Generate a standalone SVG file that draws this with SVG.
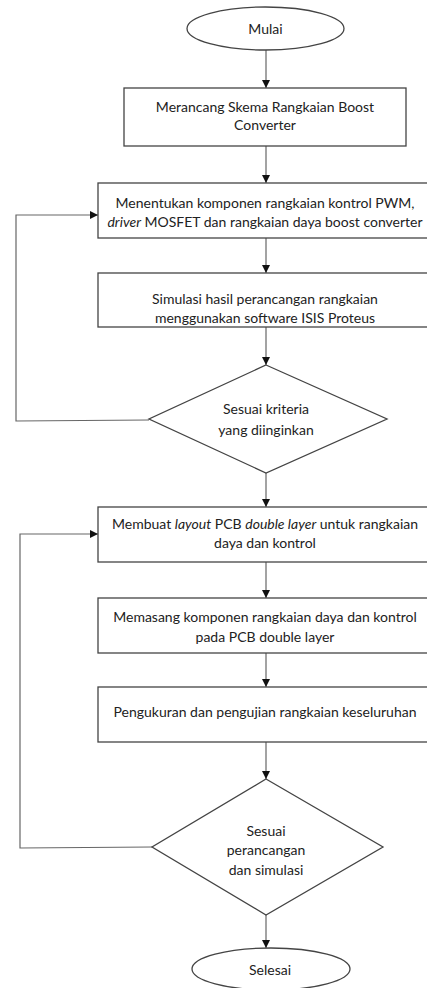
<svg xmlns="http://www.w3.org/2000/svg" width="427" height="988" viewBox="0 0 427 988">
<defs>
<marker id="ah" viewBox="0 0 10 10" refX="10" refY="5" markerWidth="8" markerHeight="8" markerUnits="userSpaceOnUse" orient="auto">
<path d="M0,0 L10,5 L0,10 z" fill="#111"/>
</marker>
<style>
.n{fill:#fff;stroke:#444;stroke-width:1.3}
.c{fill:none;stroke:#666;stroke-width:1.2}
text{font-family:Lato,"Liberation Sans",Arial,sans-serif;font-size:14px;fill:#222;text-anchor:middle;dominant-baseline:central}
.i{font-style:italic}
</style>
</defs>
<rect width="427" height="988" fill="#fff"/>
<g id="connectors">
<line class="c" x1="266" y1="50" x2="266" y2="88" marker-end="url(#ah)"/>
<line class="c" x1="266" y1="146" x2="266" y2="183" marker-end="url(#ah)"/>
<line class="c" x1="266" y1="238" x2="266" y2="273" marker-end="url(#ah)"/>
<line class="c" x1="266" y1="327" x2="266" y2="365" marker-end="url(#ah)"/>
<polyline class="c" points="149,420 16,421 16,215 98,215" marker-end="url(#ah)"/>
<line class="c" x1="266" y1="473" x2="266" y2="507" marker-end="url(#ah)"/>
<line class="c" x1="266" y1="562" x2="266" y2="598" marker-end="url(#ah)"/>
<line class="c" x1="266" y1="653" x2="266" y2="687" marker-end="url(#ah)"/>
<line class="c" x1="266" y1="742" x2="266" y2="779" marker-end="url(#ah)"/>
<polyline class="c" points="152,847 20,848 20,534 98,534" marker-end="url(#ah)"/>
<line class="c" x1="266" y1="915" x2="266" y2="948" marker-end="url(#ah)"/>
</g>
<g id="start">
<ellipse class="n" cx="265.5" cy="28.5" rx="78.5" ry="21.5"/>
<text x="265.5" y="28.5">Mulai</text>
</g>
<g id="step1">
<rect class="n" x="124" y="88" width="282" height="58"/>
<text x="265" y="106">Merancang Skema Rangkaian Boost</text>
<text x="265" y="124">Converter</text>
</g>
<g id="step2">
<rect class="n" x="98" y="183" width="340" height="55"/>
<text x="265" y="202">Menentukan komponen rangkaian kontrol PWM,</text>
<text x="265" y="221"><tspan class="i">driver</tspan> MOSFET dan rangkaian daya boost converter</text>
</g>
<g id="step3">
<rect class="n" x="98" y="273" width="340" height="54"/>
<text x="265" y="298">Simulasi hasil perancangan rangkaian</text>
<text x="265" y="317">menggunakan software ISIS Proteus</text>
</g>
<g id="decision1">
<polygon class="n" points="266,365 387,419 266,473 149,419"/>
<text x="266" y="408">Sesuai kriteria</text>
<text x="266" y="429">yang diinginkan</text>
</g>
<g id="step4">
<rect class="n" x="98" y="507" width="340" height="55"/>
<text x="265" y="523">Membuat <tspan class="i">layout</tspan> PCB <tspan class="i">double layer</tspan> untuk rangkaian</text>
<text x="265" y="542">daya dan kontrol</text>
</g>
<g id="step5">
<rect class="n" x="98" y="598" width="340" height="55"/>
<text x="265" y="616">Memasang komponen rangkaian daya dan kontrol</text>
<text x="265" y="636">pada PCB double layer</text>
</g>
<g id="step6">
<rect class="n" x="98" y="687" width="340" height="55"/>
<text x="265" y="711">Pengukuran dan pengujian rangkaian keseluruhan</text>
</g>
<g id="decision2">
<polygon class="n" points="266,779 383,847 266,915 152,847"/>
<text x="266" y="830">Sesuai</text>
<text x="266" y="849">perancangan</text>
<text x="266" y="869">dan simulasi</text>
</g>
<g id="end">
<ellipse class="n" cx="271" cy="969" rx="79" ry="21"/>
<text x="270" y="969">Selesai</text>
</g>
</svg>
